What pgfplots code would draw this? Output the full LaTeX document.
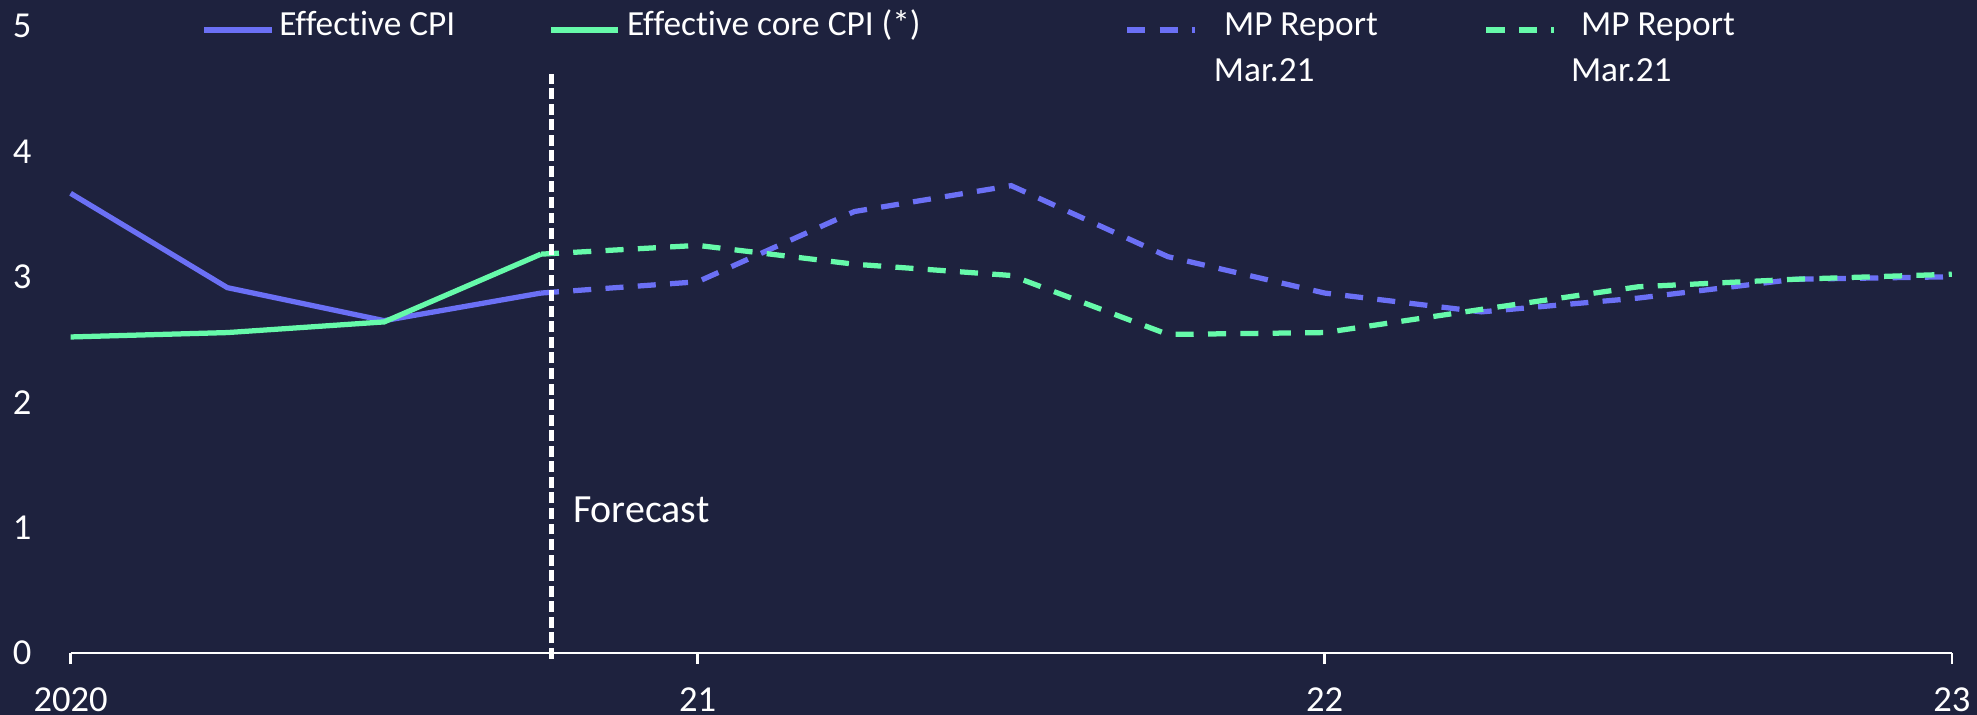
\documentclass[border=0pt]{standalone}
\usepackage{fontspec}
\setmainfont{Carlito}[Ligatures=CommonOff]
\usepackage{pgfplots}
\pgfplotsset{compat=1.18}

\definecolor{bgnavy}{RGB}{30,34,62}
\definecolor{cpiblue}{RGB}{107,112,245}
\definecolor{coregreen}{RGB}{102,250,170}

\begin{document}
\begin{tikzpicture}
% background
\fill[bgnavy] (-16.8pt,-14.7pt) rectangle (453.6pt,155.4pt);
\begin{axis}[
    at={(0,0)}, anchor=south west,
    scale only axis, width=447.6pt, height=149.25pt,
    xmin=2020, xmax=2023, ymin=0, ymax=5,
    clip=false,
    axis x line=bottom, axis y line=left,
    x axis line style={white, line width=0.6pt, -},
    y axis line style={draw=none},
    xtick={2020,2021,2022,2023}, xticklabels={2020,21,22,23},
    ytick={0,1,2,3,4,5},
    xtick style={white, line width=0.6pt},
    ytick style={draw=none},
    tick align=outside,
    major tick length=2.6pt,
    /pgf/number format/assume math mode=true,
    tick label style={font=\fontsize{8.7}{10}\selectfont, text=white},
    xticklabel style={yshift=-2pt},
    yticklabel style={xshift=-3.2pt},
    legend columns=4,
    legend style={at={(0.0697,1)}, anchor=north west, yshift=5.16pt,
        draw=none, fill=none, inner sep=0pt, outer sep=0pt,
        column sep=0pt, row sep=0pt,
        nodes={inner sep=0pt, text=white, font=\fontsize{8.4}{10.8}\selectfont},
        cells={anchor=base west}},
    legend image code/.code={\draw[#1] (0pt,1.4pt) -- (16pt,1.4pt);},
]
%% actual data
\addplot[cpiblue, line width=1.25pt] coordinates {
    (2020,3.665)(2020.25,2.913)(2020.5,2.65)(2020.75,2.87)
};
\addlegendentry{\hspace*{1.2pt}\makebox[64pt][l]{Effective CPI}}
\addplot[coregreen, line width=1.25pt] coordinates {
    (2020,2.52)(2020.25,2.555)(2020.5,2.64)(2020.75,3.18)
};
\addlegendentry{\hspace*{1.5pt}\makebox[118.4pt][l]{Effective core CPI (*)}}
%% forecasts
\addplot[cpiblue, line width=1.25pt, dash pattern=on 4.3pt off 3.4pt] coordinates {
    (2020.75,2.87)(2021,2.96)(2021.25,3.52)(2021.5,3.726)(2021.75,3.16)
    (2022,2.87)(2022.25,2.72)(2022.5,2.83)(2022.75,2.98)(2023,3.0)
};
\addlegendentry{\hspace*{4pt}\makebox[64.2pt][l]{\begin{tabular}[t]{@{}l@{}}\hspace*{2.4pt}MP Report\\Mar.21\end{tabular}}}
\addplot[coregreen, line width=1.25pt, dash pattern=on 4.3pt off 3.4pt] coordinates {
    (2020.75,3.18)(2021,3.25)(2021.25,3.10)(2021.5,3.01)(2021.75,2.54)
    (2022,2.555)(2022.25,2.74)(2022.5,2.92)(2022.75,2.98)(2023,3.02)
};
\addlegendentry{\hspace*{3.5pt}\begin{tabular}[t]{@{}l@{}}\hspace*{2.4pt}MP Report\\Mar.21\end{tabular}}
%% forecast start marker
\addplot[white, line width=1.2pt, dash pattern=on 2.6pt off 1.1pt, forget plot] coordinates {
    (2020.767,-0.046)(2020.767,4.62)
};
\node[anchor=base west, inner sep=0pt, text=white, font=\fontsize{9.5}{11}\selectfont]
    at (axis cs:2020.80,1.044) {Forecast};
\end{axis}
\pgfresetboundingbox
\path (-16.8pt,-14.7pt) rectangle (453.6pt,155.4pt);
\end{tikzpicture}
\end{document}
